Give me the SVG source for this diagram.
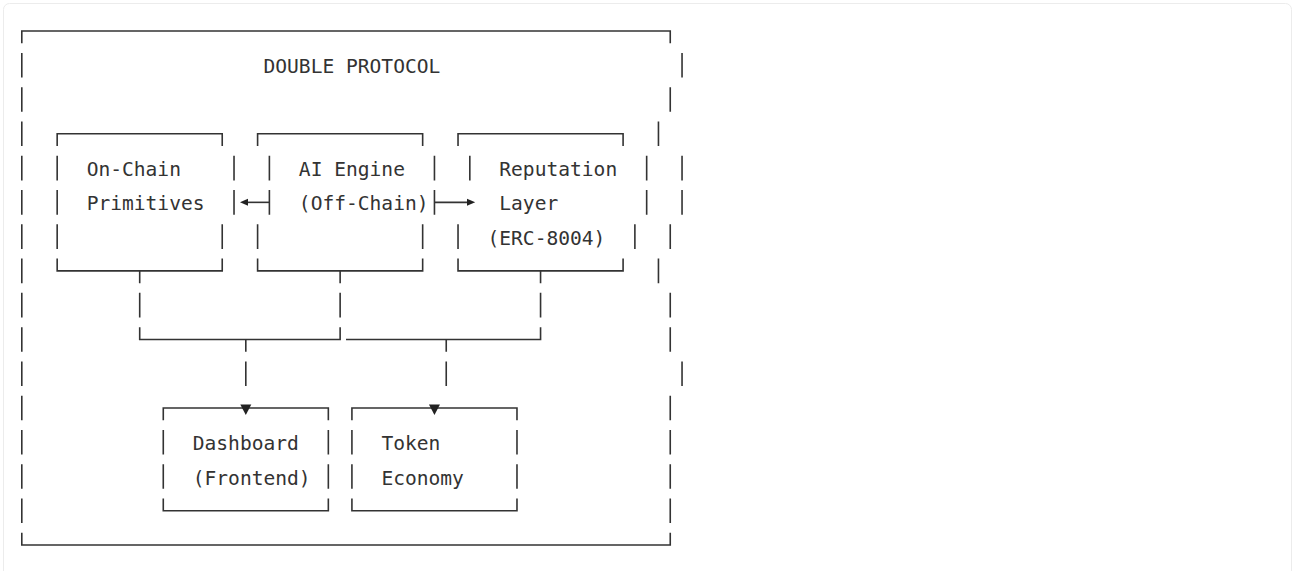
<svg xmlns="http://www.w3.org/2000/svg" width="1295" height="571" viewBox="0 0 1295 571">
  <style>
    .ln { fill: none; stroke: #333; stroke-width: 1.6; stroke-linecap: butt; stroke-linejoin: miter; }
    .tx { font-family: "DejaVu Sans Mono", "Liberation Mono", monospace; font-size: 19.58px; fill: #333; }
    .ah { fill: #222; }
  </style>

  <!-- page panel -->
  <rect x="3.5" y="3.5" width="1288" height="620" rx="6" fill="#fff" stroke="#ececec" stroke-width="1"/>

  <!-- outer protocol frame -->
  <g id="node-protocol">
    <path class="ln" d="M21.8 43.3 V31 H670.25 V43.3
      M21.8 52.97 V77.57 M21.8 87.24 V111.84 M21.8 121.51 V146.11 M21.8 155.78 V180.38
      M21.8 190.05 V214.65 M21.8 224.32 V248.92 M21.8 258.59 V283.19 M21.8 292.86 V317.46
      M21.8 327.13 V351.73 M21.8 361.4 V386 M21.8 395.67 V420.27 M21.8 429.94 V454.54
      M21.8 464.21 V488.81 M21.8 498.48 V523.08
      M21.8 532.75 V545.05 H670.25 V532.75
      M682.04 52.97 V77.57 M670.25 87.24 V111.84 M658.46 121.51 V146.11 M682.04 155.78 V180.38
      M682.04 190.05 V214.65 M670.25 224.32 V248.92 M658.46 258.59 V283.19 M670.25 292.86 V317.46
      M670.25 327.13 V351.73 M682.04 361.4 V386 M670.25 395.67 V420.27 M670.25 429.94 V454.54
      M670.25 464.21 V488.81 M670.25 498.48 V523.08"/>
    <text class="tx" x="263.5" y="73.27">DOUBLE PROTOCOL</text>
  </g>

  <g id="node-onchain">
    <path class="ln" d="M57.17 146.11 V133.81 H222.23 V146.11
      M57.17 155.78 V180.38 M57.17 190.05 V214.65 M57.17 224.32 V248.92
      M234.02 155.78 V180.38 M234.02 190.05 V214.65 M222.23 224.32 V248.92
      M57.17 258.59 V270.89 H222.23 V258.59"/>
    <text class="tx" x="86.65" y="176.08">On-Chain</text>
    <text class="tx" x="86.65" y="210.35">Primitives</text>
  </g>

  <g id="node-ai-engine">
    <path class="ln" d="M257.6 146.11 V133.81 H422.66 V146.11
      M269.39 155.78 V180.38 M269.39 190.05 V214.65 M257.6 224.32 V248.92
      M434.45 155.78 V180.38 M434.45 190.05 V214.65 M422.66 224.32 V248.92
      M257.6 258.59 V270.89 H422.66 V258.59"/>
    <text class="tx" x="298.87" y="176.08">AI Engine</text>
    <text class="tx" x="298.87" y="210.35">(Off-Chain)</text>
  </g>

  <g id="node-reputation">
    <path class="ln" d="M458.03 146.11 V133.81 H623.09 V146.11
      M469.82 155.78 V180.38 M458.03 224.32 V248.92
      M646.67 155.78 V180.38 M646.67 190.05 V214.65 M634.88 224.32 V248.92
      M458.03 258.59 V270.89 H623.09 V258.59"/>
    <text class="tx" x="499.3" y="176.08">Reputation</text>
    <text class="tx" x="499.3" y="210.35">Layer</text>
    <text class="tx" x="487.5" y="244.62">(ERC-8004)</text>
  </g>

  <g id="node-dashboard">
    <path class="ln" d="M163.28 420.27 V407.97 H328.34 V420.27
      M163.28 429.94 V454.54 M163.28 464.21 V488.81
      M328.34 429.94 V454.54 M328.34 464.21 V488.81
      M163.28 498.48 V510.78 H328.34 V498.48"/>
    <text class="tx" x="192.76" y="450.24">Dashboard</text>
    <text class="tx" x="192.76" y="484.51">(Frontend)</text>
  </g>

  <g id="node-token">
    <path class="ln" d="M351.92 420.27 V407.97 H516.98 V420.27
      M351.92 429.94 V454.54 M351.92 464.21 V488.81
      M516.98 429.94 V454.54 M516.98 464.21 V488.81
      M351.92 498.48 V510.78 H516.98 V498.48"/>
    <text class="tx" x="381.4" y="450.24">Token</text>
    <text class="tx" x="381.4" y="484.51">Economy</text>
  </g>

  <g id="connectors">
    <!-- AI engine to on-chain primitives -->
    <path class="ln" d="M248 202.35 H269.39"/>
    <polygon class="ah" points="240,202.35 248,198.85 248,205.85"/>
    <!-- AI engine to reputation layer -->
    <path class="ln" d="M434.45 202.35 H467"/>
    <polygon class="ah" points="475.2,202.35 467,198.85 467,205.85"/>
    <!-- upper layer merge lines -->
    <path class="ln" d="M139.7 270.89 V283.19 M139.7 292.86 V317.46 M139.7 327.13 V339.43 H340.13 V327.13
      M340.13 317.46 V292.86 M340.13 283.19 V270.89"/>
    <path class="ln" d="M346.03 339.43 H540.56 V327.13 M540.56 317.46 V292.86 M540.56 283.19 V270.89"/>
    <!-- drops to the lower boxes -->
    <path class="ln" d="M245.81 339.43 V351.73 M245.81 361.4 V386"/>
    <polygon class="ah" points="240.3,404.5 251.3,404.5 245.81,415"/>
    <path class="ln" d="M446.24 339.43 V351.73 M446.24 361.4 V386"/>
    <polygon class="ah" points="428.95,404.5 439.95,404.5 434.45,415"/>
  </g>
</svg>
